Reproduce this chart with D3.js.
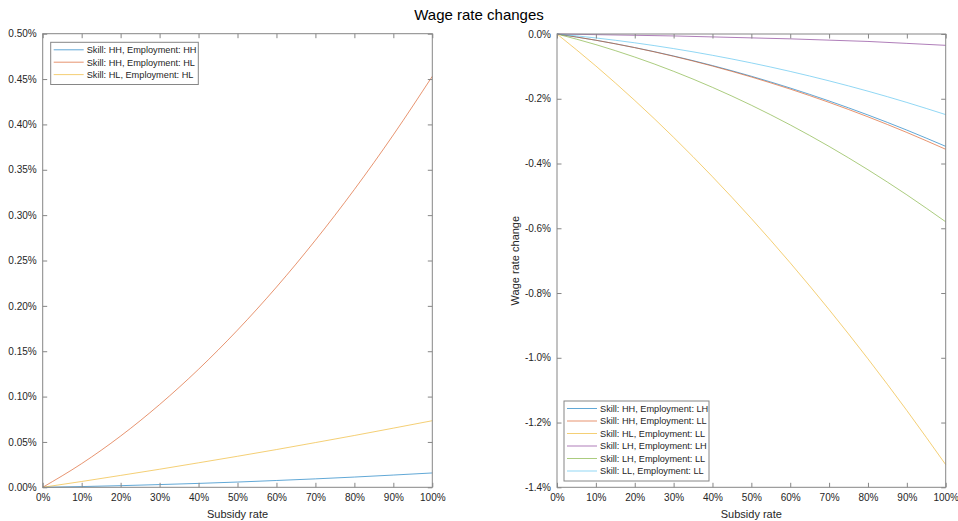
<!DOCTYPE html>
<html>
<head>
<meta charset="utf-8">
<script src="https://cdn.jsdelivr.net/npm/d3@7"></script>
<style>
  html, body { margin: 0; padding: 0; background: #ffffff; }
  svg { display: block; font-family: "Liberation Sans", Arial, Helvetica, sans-serif; }
</style>
</head>
<body>
<svg id="chart" width="958" height="521"></svg>
<script>
// Subsidy rate grid (fraction of 1)
const subsidyRate = [0, 0.1, 0.2, 0.3, 0.4, 0.5, 0.6, 0.7, 0.8, 0.9, 1.0];

// Tick values
const xTicks = [0, 0.1, 0.2, 0.3, 0.4, 0.5, 0.6, 0.7, 0.8, 0.9, 1.0];
const leftYTicks = [0, 0.05, 0.10, 0.15, 0.20, 0.25, 0.30, 0.35, 0.40, 0.45, 0.50];
const rightYTicks = [0, -0.2, -0.4, -0.6, -0.8, -1.0, -1.2, -1.4];

// Left panel: wage rate change in percent
const leftNames = ["Skill: HH, Employment: HH", "Skill: HH, Employment: HL", "Skill: HL, Employment: HL"];
const leftColors = ["#0072BD", "#D95319", "#EDB120"];
const hhHH = [0, 0.0008, 0.0018, 0.0030, 0.0043, 0.0058, 0.0075, 0.0093, 0.0113, 0.0135, 0.0158];
const hhHL = [0, 0.0261, 0.0565, 0.0912, 0.1301, 0.1733, 0.2207, 0.2724, 0.3283, 0.3885, 0.4530];
const hlHL = [0, 0.0064, 0.0131, 0.0199, 0.0270, 0.0342, 0.0416, 0.0493, 0.0571, 0.0652, 0.0734];

// Right panel: wage rate change in percent
const rightNames = ["Skill: HH, Employment: LH", "Skill: HH, Employment: LL", "Skill: HL, Employment: LL",
                    "Skill: LH, Employment: LH", "Skill: LH, Employment: LL", "Skill: LL, Employment: LL"];
const rightColors = ["#0072BD", "#D95319", "#EDB120", "#7E2F8E", "#77AC30", "#4DBEEE"];
const hhLH = [0, -0.0192, -0.0419, -0.0680, -0.0975, -0.1305, -0.1669, -0.2068, -0.2501, -0.2968, -0.3470];
const hhLL = [0, -0.0193, -0.0422, -0.0688, -0.0990, -0.1328, -0.1702, -0.2112, -0.2558, -0.3041, -0.3560];
const hlLL = [0, -0.0988, -0.2052, -0.3192, -0.4408, -0.5700, -0.7068, -0.8512, -1.0032, -1.1628, -1.3300];
const lhLH = [0, -0.0020, -0.0040, -0.0060, -0.0090, -0.0120, -0.0150, -0.0190, -0.0230, -0.0290, -0.0350];
const lhLL = [0, -0.0328, -0.0712, -0.1152, -0.1648, -0.2200, -0.2808, -0.3472, -0.4192, -0.4968, -0.5800];
const llLL = [0, -0.0122, -0.0272, -0.0451, -0.0658, -0.0893, -0.1156, -0.1447, -0.1766, -0.2114, -0.2490];

const leftSeries = [hhHH, hhHL, hlHL];
const rightSeries = [hhLH, hhLL, hlLL, lhLH, lhLL, llLL];

const svg = d3.select("#chart");
const axisColor = "#868686";
const textColor = "#262626";
const tickLen = 4.5;

svg.append("text")
  .attr("x", 479).attr("y", 20)
  .attr("text-anchor", "middle")
  .attr("font-size", 15)
  .attr("fill", "#000")
  .text("Wage rate changes");

function panel(opts) {
  const { left, right, top, bottom, yDomain, yTicks, yFmt, series, names, colors, legend, yLabel } = opts;
  const x = d3.scaleLinear().domain([0, 1]).range([left, right]);
  const y = d3.scaleLinear().domain(yDomain).range([bottom, top]);
  const g = svg.append("g");

  // white plotting area
  g.append("rect").attr("x", left).attr("y", top)
    .attr("width", right - left).attr("height", bottom - top).attr("fill", "#fff");

  // curves
  const line = d3.line()
    .x((d, i) => x(subsidyRate[i]))
    .y(d => y(d))
    .curve(d3.curveMonotoneX);
  series.forEach((s, k) => {
    g.append("path").datum(s)
      .attr("d", line)
      .attr("fill", "none")
      .attr("stroke", colors[k])
      .attr("stroke-width", 1)
      .attr("stroke-opacity", 0.62);
  });

  const styleAxis = sel => {
    sel.select(".domain").remove();
    sel.selectAll(".tick line").attr("stroke", axisColor);
    sel.selectAll(".tick text").attr("fill", textColor).attr("font-size", 10)
      .attr("font-family", "Liberation Sans, Arial, sans-serif");
  };

  // bottom axis with labels
  g.append("g").attr("transform", `translate(0,${bottom})`)
    .call(d3.axisBottom(x).tickValues(xTicks).tickSizeInner(-tickLen).tickSizeOuter(0)
      .tickPadding(7).tickFormat(d3.format(".0%")))
    .call(styleAxis);
  // top axis, ticks only
  g.append("g").attr("transform", `translate(0,${top})`)
    .call(d3.axisTop(x).tickValues(xTicks).tickSizeInner(-tickLen).tickSizeOuter(0).tickFormat(""))
    .call(styleAxis);
  // left axis with labels
  g.append("g").attr("transform", `translate(${left},0)`)
    .call(d3.axisLeft(y).tickValues(yTicks).tickSizeInner(-tickLen).tickSizeOuter(0)
      .tickPadding(6).tickFormat(yFmt))
    .call(styleAxis);
  // right axis, ticks only
  g.append("g").attr("transform", `translate(${right},0)`)
    .call(d3.axisRight(y).tickValues(yTicks).tickSizeInner(-tickLen).tickSizeOuter(0).tickFormat(""))
    .call(styleAxis);

  // axes box
  g.append("rect").attr("x", left).attr("y", top)
    .attr("width", right - left).attr("height", bottom - top)
    .attr("fill", "none").attr("stroke", axisColor).attr("stroke-width", 1);

  // x label
  g.append("text")
    .attr("x", (left + right) / 2).attr("y", bottom + 31)
    .attr("text-anchor", "middle").attr("font-size", 11).attr("fill", textColor)
    .text("Subsidy rate");

  if (yLabel) {
    g.append("text")
      .attr("transform", `translate(${left - 38},${(top + bottom) / 2}) rotate(-90)`)
      .attr("text-anchor", "middle").attr("font-size", 11).attr("fill", textColor)
      .text(yLabel);
  }

  // legend
  const lg = g.append("g");
  lg.append("rect").attr("x", legend.x).attr("y", legend.y)
    .attr("width", legend.w).attr("height", legend.rowH * names.length + 5)
    .attr("fill", "#fff").attr("stroke", axisColor).attr("stroke-width", 1);
  names.forEach((n, k) => {
    const cy = legend.y + 7.5 + k * legend.rowH;
    lg.append("line")
      .attr("x1", legend.x + 3).attr("x2", legend.x + 33)
      .attr("y1", cy).attr("y2", cy)
      .attr("stroke", colors[k]).attr("stroke-width", 1).attr("stroke-opacity", 0.62);
    lg.append("text")
      .attr("x", legend.x + 36).attr("y", cy + 3.3)
      .attr("font-size", 9.2).attr("fill", textColor)
      .text(n);
  });
}

panel({
  left: 42.7, right: 432.3, top: 33.7, bottom: 487.3,
  yDomain: [0, 0.5], yTicks: leftYTicks,
  yFmt: d => d3.format(".2f")(d) + "%",
  series: leftSeries, names: leftNames, colors: leftColors,
  legend: { x: 50.7, y: 42.3, w: 147.6, rowH: 12.4 }
});

panel({
  left: 557, right: 945.7, top: 34, bottom: 487.3,
  yDomain: [-1.4, 0], yTicks: rightYTicks,
  yFmt: d => d3.format(".1f")(d).replace("\u2212", "-") + "%",
  series: rightSeries, names: rightNames, colors: rightColors,
  legend: { x: 564, y: 401, w: 145, rowH: 12.5 },
  yLabel: "Wage rate change"
});
</script>
</body>
</html>
